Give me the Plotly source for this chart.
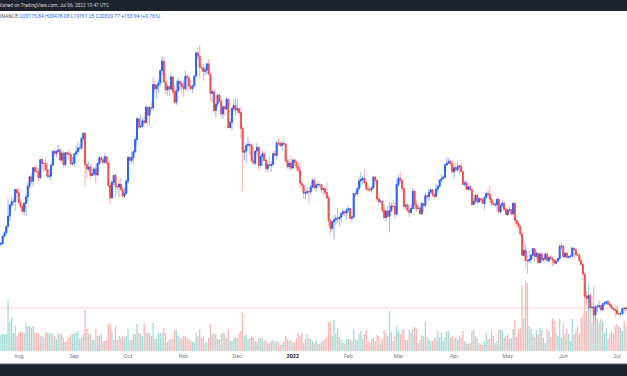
import plotly.graph_objects as go
import pandas as pd

# ---------------- data (BINANCE BTC/USDT daily, prices in thousand USDT) ----------------
first_open_k = 32.14  # close of 2021-07-21
dates = pd.date_range("2021-07-22", "2022-07-06", freq="D")

close_k = [
    32.29, 33.63, 34.26, 35.42, 37.34, 39.41, 40.00, 40.01, 42.24, 41.63,
    39.85, 39.15, 38.21, 39.72, 40.86, 42.84, 44.61, 43.79, 46.29, 45.59, 45.55, 44.43, 47.79, 47.10, 47.05, 45.94,
    44.69, 44.74, 46.76, 49.34, 48.91, 49.32, 49.55, 47.71, 48.99, 46.85, 49.07, 48.90, 48.77, 46.97, 47.10,
    48.85, 49.25, 49.94, 49.92, 51.76, 52.66, 46.86, 46.05, 46.40, 44.85, 45.17, 46.03, 44.94, 47.11, 48.12,
    47.74, 47.30, 48.32, 47.26, 43.01, 40.69, 43.57, 44.90, 42.84, 42.72, 43.21, 42.24, 41.03, 41.56, 43.79,
    48.17, 47.66, 48.23, 49.25, 51.49, 55.34, 53.81, 53.97, 54.97, 54.66, 57.47, 56.01, 57.37, 57.35, 61.67, 60.88,
    61.53, 62.01, 64.28, 66.00, 62.19, 60.69, 61.29, 60.85, 63.08, 60.33, 58.41, 60.58, 62.25, 61.86, 61.30,
    60.91, 63.22, 62.90, 61.40, 60.94, 61.47, 63.27, 67.53, 66.95, 64.88, 64.77, 64.12, 64.38, 65.52, 63.61,
    60.06, 60.34, 56.89, 58.05, 59.71, 58.62, 56.25, 57.54, 57.14, 58.96, 53.73, 54.72, 57.27, 57.78, 56.95,
    57.18, 56.48, 53.60, 49.15, 49.40, 50.44, 50.59, 50.47, 47.55, 47.14, 49.39, 50.05, 46.70, 48.34, 48.86, 47.63,
    46.13, 46.83, 46.68, 46.91, 48.89, 48.59, 50.84, 50.82, 50.40, 50.78, 50.70, 47.54, 46.46, 47.12, 46.22,
    47.72, 47.29, 46.45, 45.83, 43.45, 43.08, 41.57, 41.68, 41.86, 41.82, 42.74, 43.95, 42.59, 43.10, 43.18, 43.11,
    42.25, 42.38, 41.74, 40.68, 36.45, 35.07, 36.28, 36.65, 36.95, 36.85, 37.14, 37.78, 38.14, 37.92, 38.50,
    38.74, 36.95, 37.15, 41.50, 41.44, 42.41, 43.84, 44.12, 44.34, 43.57, 42.41, 42.24, 42.20, 42.59, 44.58,
    43.96, 40.54, 40.03, 40.12, 38.43, 37.08, 38.29, 37.30, 38.33, 39.21, 39.11, 37.71, 43.19,
    44.35, 43.93, 42.46, 39.15, 39.40, 38.42, 37.99, 38.73, 41.94, 39.42, 38.73, 38.81, 37.78, 39.67, 39.29, 41.12,
    40.92, 41.76, 42.20, 41.26, 41.00, 42.36, 42.88, 43.99, 44.31, 44.51, 46.83, 47.13, 47.47, 47.06, 45.54,
    46.28, 45.87, 46.45, 46.62, 45.56, 43.21, 43.50, 42.29, 42.78, 42.21, 39.52, 40.13, 41.15, 39.94, 40.55,
    40.38, 39.68, 40.80, 41.49, 41.36, 40.48, 39.71, 39.44, 39.45, 40.43, 38.11, 39.24, 39.74, 38.60, 37.63,
    38.47, 38.53, 37.73, 39.69, 36.55, 36.01, 35.47, 34.04, 30.08, 31.02, 29.10, 29.05, 29.28, 30.10, 31.31, 29.86,
    30.43, 28.72, 30.31, 29.25, 29.43, 30.32, 29.10, 29.66, 29.54, 29.20, 28.63, 29.03, 29.47, 31.73, 31.80,
    29.81, 30.45, 29.70, 29.87, 29.92, 31.37, 31.13, 30.21, 30.11, 29.08, 28.42, 26.57, 22.49, 22.14, 22.58,
    20.40, 20.47, 19.02, 20.55, 20.56, 20.72, 19.99, 21.11, 21.24, 21.49, 21.04, 20.74, 20.28, 20.12, 19.94,
    19.28, 19.24, 19.30, 20.23, 20.18, 20.33,
]

high_k = [
    32.58, 33.65, 34.49, 35.45, 40.55, 39.54, 40.90, 40.64, 42.32, 42.41,
    42.60, 40.45, 39.78, 39.97, 41.40, 43.39, 44.74, 45.31, 46.45, 46.70, 46.74, 46.22, 47.89, 48.14, 47.39, 48.05,
    47.16, 46.00, 47.05, 49.38, 49.82, 49.51, 50.50, 49.87, 49.28, 49.37, 49.17, 49.31, 49.63, 48.91, 48.25,
    49.00, 50.40, 51.05, 50.56, 51.90, 52.78, 52.92, 47.34, 47.40, 47.03, 45.97, 46.46, 46.88, 47.25, 48.45,
    48.50, 48.16, 48.81, 48.37, 47.35, 43.63, 44.00, 44.98, 45.20, 42.97, 43.94, 44.35, 42.79, 42.62, 44.13,
    48.50, 48.34, 49.30, 49.50, 51.89, 55.75, 55.33, 56.10, 55.50, 56.56, 57.84, 57.68, 57.75, 58.53, 62.93, 62.34,
    61.72, 62.70, 64.49, 67.00, 66.64, 63.73, 61.75, 61.49, 63.71, 63.29, 61.50, 62.50, 62.98, 62.35, 62.40,
    62.44, 64.27, 63.52, 63.13, 62.59, 61.56, 63.29, 67.79, 68.53, 69.00, 65.60, 65.46, 65.00, 65.55, 66.40,
    63.62, 60.81, 60.98, 58.35, 59.86, 60.03, 59.27, 57.88, 57.83, 59.40, 59.17, 55.28, 57.45, 58.87, 59.18,
    59.04, 57.38, 57.60, 53.87, 49.70, 50.89, 51.94, 51.20, 50.80, 50.10, 49.49, 50.80, 50.30, 48.70, 49.50, 49.41,
    47.98, 47.31, 48.30, 47.54, 49.33, 49.58, 51.38, 51.81, 51.16, 51.28, 52.09, 50.70, 48.14, 47.90, 48.55,
    47.94, 47.99, 47.57, 47.51, 47.07, 43.75, 43.15, 42.30, 42.79, 42.25, 43.10, 44.32, 44.46, 43.45, 43.80, 43.48,
    43.20, 42.70, 42.59, 43.50, 41.10, 36.84, 36.50, 37.55, 37.55, 38.92, 37.23, 38.00, 38.72, 38.36, 38.74,
    39.27, 38.86, 37.40, 41.69, 41.94, 42.65, 44.50, 45.49, 44.80, 45.82, 43.92, 43.00, 42.76, 42.88, 44.77,
    44.58, 44.19, 40.97, 40.45, 40.14, 39.49, 38.43, 39.25, 39.84, 39.73, 40.30, 39.89, 44.23,
    44.95, 45.40, 44.10, 42.55, 39.66, 39.69, 39.55, 39.40, 42.59, 42.06, 40.24, 39.49, 39.31, 39.95, 39.90, 41.72,
    41.47, 42.32, 42.40, 42.30, 41.54, 43.36, 43.03, 44.22, 45.09, 44.82, 46.92, 48.19, 48.10, 47.70, 47.60,
    46.72, 47.21, 47.44, 46.89, 47.20, 45.56, 43.92, 43.97, 42.81, 43.43, 42.41, 40.70, 41.56, 41.50, 40.86,
    40.71, 40.60, 41.12, 41.76, 42.20, 42.98, 40.80, 39.99, 39.94, 40.62, 40.80, 39.47, 40.37, 39.92, 38.80,
    38.67, 39.17, 38.65, 39.92, 39.85, 36.66, 36.13, 35.51, 34.24, 32.66, 32.19, 30.03, 30.98, 30.34, 31.46, 31.31,
    30.79, 30.67, 30.55, 30.78, 29.63, 30.49, 30.68, 29.85, 30.22, 29.83, 29.39, 29.22, 29.54, 32.22, 32.40,
    31.98, 30.69, 30.68, 29.94, 30.20, 31.77, 31.55, 31.33, 30.70, 30.39, 29.45, 28.55, 26.90, 23.36, 22.75,
    22.98, 21.37, 20.78, 20.83, 21.08, 21.72, 20.87, 21.21, 21.50, 21.60, 21.87, 21.52, 21.20, 20.43, 20.18,
    20.88, 19.40, 19.65, 20.35, 20.73, 20.48,
]

low_k = [
    31.71, 31.95, 33.40, 33.85, 35.21, 36.38, 38.77, 39.20, 38.31, 41.00,
    39.42, 38.69, 37.64, 37.51, 37.33, 39.85, 42.45, 43.28, 42.84, 44.77, 45.35, 43.77, 44.25, 45.96, 45.53, 45.67,
    44.38, 44.20, 43.95, 46.62, 48.29, 48.12, 49.05, 47.60, 47.12, 46.31, 46.37, 48.37, 47.76, 46.86, 46.70,
    46.51, 48.60, 48.35, 49.40, 49.50, 50.97, 42.84, 44.41, 45.51, 44.14, 44.73, 44.74, 43.37, 44.69, 46.75,
    47.04, 46.75, 47.05, 46.85, 42.50, 39.60, 40.56, 43.09, 40.68, 41.65, 40.75, 42.10, 40.89, 40.75, 41.41,
    43.28, 47.43, 47.12, 46.89, 49.00, 50.38, 53.36, 53.61, 53.70, 54.12, 54.42, 53.88, 54.17, 56.82, 56.85, 60.15,
    58.96, 60.10, 61.32, 63.48, 62.00, 60.00, 59.67, 59.51, 60.65, 59.82, 58.00, 57.82, 60.17, 60.72, 59.95,
    59.41, 60.62, 60.38, 60.68, 60.72, 60.13, 61.33, 63.09, 66.38, 62.82, 64.10, 62.33, 63.36, 63.59, 63.40,
    58.57, 58.37, 56.47, 55.60, 57.35, 58.49, 55.61, 55.30, 55.84, 57.00, 53.50, 53.61, 53.26, 56.70, 55.88,
    56.46, 55.84, 51.68, 42.00, 47.73, 47.10, 50.04, 48.60, 47.32, 46.85, 46.60, 48.64, 45.67, 46.33, 46.55, 47.53,
    45.50, 45.52, 46.41, 45.56, 46.63, 48.42, 47.92, 50.41, 50.17, 49.44, 50.44, 47.31, 46.10, 45.90, 45.68,
    46.21, 46.65, 45.70, 45.50, 42.50, 42.43, 40.61, 40.50, 41.20, 39.65, 41.27, 42.45, 42.30, 41.73, 42.58, 42.61,
    41.54, 41.25, 41.14, 40.55, 35.44, 34.01, 34.60, 32.92, 35.71, 36.24, 35.51, 36.16, 37.40, 37.35, 36.63,
    38.00, 36.59, 36.25, 37.00, 40.93, 41.12, 41.92, 42.67, 43.12, 43.16, 42.00, 41.75, 41.86, 41.57, 42.43,
    43.32, 40.10, 39.45, 39.64, 38.00, 36.80, 36.35, 37.04, 34.32, 38.01, 38.58, 37.00, 37.45,
    42.82, 43.35, 41.84, 38.65, 38.60, 38.10, 37.16, 37.86, 38.65, 38.54, 38.23, 38.66, 37.58, 37.56, 38.12, 38.90,
    40.50, 40.14, 41.53, 40.91, 40.47, 40.89, 41.77, 42.56, 43.60, 44.07, 44.42, 46.66, 46.95, 46.60, 45.20,
    44.20, 45.63, 45.53, 45.12, 45.36, 43.12, 42.73, 42.11, 42.13, 42.00, 39.20, 39.25, 39.55, 39.55, 39.77,
    40.00, 39.55, 38.54, 40.57, 40.82, 39.75, 39.18, 39.30, 38.93, 38.20, 37.70, 37.87, 38.88, 38.18, 37.58,
    37.39, 38.05, 37.51, 37.67, 35.57, 35.26, 34.79, 33.71, 30.03, 29.73, 27.70, 26.70, 28.70, 28.63, 29.48, 29.08,
    29.43, 28.65, 28.71, 28.73, 28.95, 29.23, 28.87, 28.66, 29.31, 28.02, 28.24, 28.57, 28.84, 29.30, 31.20,
    29.30, 29.59, 29.35, 29.45, 29.50, 29.88, 29.22, 29.85, 29.94, 28.85, 28.10, 26.56, 22.30, 20.85, 20.07,
    20.23, 20.25, 17.62, 17.95, 19.64, 20.35, 19.77, 19.89, 20.73, 20.90, 20.96, 20.51, 20.20, 19.85, 18.63,
    18.97, 18.99, 18.78, 19.06, 19.30, 19.76,
]

volume_kbtc = [
    32, 34, 34, 34, 102, 58, 68, 36, 50, 30,
    36, 38, 38, 36, 56, 50, 50, 46, 50, 36, 38, 34, 30, 30, 26, 38, 36, 36, 36, 34, 30, 24, 36, 34, 34, 26,
    18, 22, 28, 34, 34,
    36, 36, 40, 24, 26, 34, 82, 44, 34, 34, 22, 22, 44, 30, 30, 34, 20, 20, 22, 54, 56, 38, 22, 50, 22, 30,
    26, 30, 26, 30,
    44, 22, 22, 34, 34, 54, 36, 34, 30, 56, 36, 36, 36, 30, 56, 24, 26, 36, 36, 36, 46, 36, 18, 22, 24, 26,
    42, 42, 30, 26, 26,
    30, 30, 26, 24, 20, 18, 18, 36, 30, 44, 26, 30, 16, 18, 26, 54, 34, 36, 34, 24, 22, 34, 36, 34, 26, 44,
    20, 20, 26, 28,
    26, 36, 40, 76, 30, 34, 24, 26, 30, 26, 20, 18, 26, 26, 26, 20, 22, 16, 16, 20, 22, 18, 20, 18, 12, 14,
    18, 30, 24, 20, 22,
    16, 18, 26, 36, 30, 36, 16, 24, 34, 26, 24, 20, 16, 22, 14, 14, 18, 20, 24, 28, 58, 58, 30, 62, 34, 46,
    28, 22, 16, 14, 24,
    24, 24, 20, 44, 24, 22, 34, 40, 24, 34, 42, 20, 16, 24, 26, 20, 32, 30, 14, 24, 42, 36, 30, 80, 38, 20,
    30, 50,
    40, 34, 42, 44, 22, 22, 42, 36, 44, 48, 44, 16, 22, 32, 30, 58, 28, 24, 20, 20, 26, 26, 40, 28, 36, 20,
    28, 40, 40, 26, 30,
    24, 28, 22, 30, 26, 40, 20, 16, 14, 16, 40, 42, 30, 26, 16, 14, 12, 20, 36, 24, 26, 40, 30, 16, 20, 42,
    44, 40, 26, 30,
    34, 24, 26, 44, 62, 28, 42, 46, 130, 66, 138, 136, 50, 44, 34, 28, 42, 34, 46, 40, 26, 16, 44, 40, 28, 66,
    60, 36, 30, 64, 26,
    56, 34, 44, 34, 20, 64, 34, 40, 50, 34, 66, 74, 140, 80, 134, 114, 56, 130, 60, 66, 56, 64, 60, 36, 46, 24,
    34, 40, 34, 50,
    54, 50, 46, 40, 60, 50,
]

month_ticks = ["2021-08-01", "2021-09-01", "2021-10-01", "2021-11-01", "2021-12-01", "2022-01-01",
               "2022-02-01", "2022-03-01", "2022-04-01", "2022-05-01", "2022-06-01", "2022-07-01"]
month_labels = ["Aug", "Sep", "Oct", "Nov", "Dec", "<b><span style='color:#131722'>2022</span></b>",
                "Feb", "Mar", "Apr", "May", "Jun", "Jul"]

header_line = "Published on TradingView.com, Jul 06, 2022 19:47 UTC"
symbol_name = "BINANCE"
ohlc_text = "O20175.84 H20478.08 L19761.25 C20329.77 +153.94 (+0.76%)"

n = len(dates)
assert len(close_k) == n and len(high_k) == n and len(low_k) == n and len(volume_kbtc) == n, (
    len(close_k), len(high_k), len(low_k), len(volume_kbtc), n)

open_k = [first_open_k] + close_k[:-1]
is_up = [c >= o for o, c in zip(open_k, close_k)]
body_hi = [max(o, c) for o, c in zip(open_k, close_k)]
body_lo = [min(o, c) for o, c in zip(open_k, close_k)]

UP = "#2962FF"
DOWN = "#EF5350"
UP_WICK = "rgba(41,98,255,0.45)"
DOWN_WICK = "rgba(239,83,80,0.45)"
VOL_UP = "rgba(38,166,154,0.42)"
VOL_DOWN = "rgba(239,83,80,0.42)"

PLOT_H = 351  # px height of plot area (top of figure to volume baseline)

fig = go.Figure()

fig.add_trace(go.Bar(
    x=dates, y=volume_kbtc, yaxis="y",
    marker=dict(color=[VOL_UP if u else VOL_DOWN for u in is_up], line=dict(width=0)),
    width=0.72 * 86400000, hoverinfo="skip",
))

fig.add_trace(go.Candlestick(
    x=dates, open=open_k, high=high_k, low=low_k, close=close_k, yaxis="y2",
    increasing=dict(line=dict(color=UP_WICK, width=1), fillcolor=UP_WICK),
    decreasing=dict(line=dict(color=DOWN_WICK, width=1), fillcolor=DOWN_WICK),
    whiskerwidth=0, hoverinfo="skip",
))

fig.add_trace(go.Candlestick(
    x=dates, open=open_k, high=body_hi, low=body_lo, close=close_k, yaxis="y2",
    increasing=dict(line=dict(color=UP, width=1), fillcolor=UP),
    decreasing=dict(line=dict(color=DOWN, width=1), fillcolor=DOWN),
    whiskerwidth=0, hoverinfo="skip",
))

def paper_y(px):
    return 1 - px / PLOT_H

shapes = [
    # last price line
    dict(type="line", xref="paper", x0=0, x1=1, yref="y2", y0=close_k[-1], y1=close_k[-1],
         line=dict(color="rgba(242,54,69,0.22)", width=1), layer="below"),
    # top dark banner
    dict(type="rect", xref="paper", x0=0, x1=1, yref="paper", y0=paper_y(11), y1=1,
         fillcolor="#1E222D", line=dict(width=0), layer="above"),
    # bottom dark banner
    dict(type="rect", xref="paper", x0=0, x1=1, yref="paper", y0=paper_y(377), y1=paper_y(364),
         fillcolor="#1E222D", line=dict(width=0), layer="above"),
    dict(type="line", xref="paper", x0=0, x1=1, yref="paper", y0=paper_y(364), y1=paper_y(364),
         line=dict(color="#5d606b", width=1), layer="above"),
]

annotations = [
    dict(text=header_line, xref="paper", yref="paper", x=0, y=paper_y(5.6), xanchor="left",
         yanchor="middle", xshift=-10, showarrow=False,
         font=dict(family="Roboto, sans-serif", size=4.8, color="#D1D4DC")),
    dict(text=f"<span style='color:#50535E'>{symbol_name}</span> "
              f"<span style='color:#2962FF'>{ohlc_text}</span>",
         xref="paper", yref="paper", x=0, y=paper_y(16.7), xanchor="left", yanchor="middle",
         xshift=-5, showarrow=False, font=dict(family="Roboto, sans-serif", size=5)),
]

fig.update_layout(
    width=627, height=376,
    margin=dict(l=0, r=0, t=0, b=376 - PLOT_H),
    paper_bgcolor="white", plot_bgcolor="white",
    showlegend=False,
    xaxis=dict(
        type="date", range=["2021-07-21 12:00", "2022-07-06 14:10"],
        tickmode="array", tickvals=month_ticks, ticktext=month_labels,
        showgrid=False, zeroline=False, showline=False, ticks="",
        tickfont=dict(family="Roboto, sans-serif", size=5.5, color="#787B86"),
        rangeslider=dict(visible=False), fixedrange=True,
    ),
    yaxis=dict(range=[0, 2 * PLOT_H], visible=False, fixedrange=True),
    yaxis2=dict(range=[12.375, 77.325], overlaying="y", visible=False, fixedrange=True),
    shapes=shapes,
    annotations=annotations,
)

fig.write_html(
    "out.html",
    config={"displayModeBar": False, "staticPlot": True},
    post_script="document.body.style.margin='0';document.body.style.padding='0';"
                "document.body.style.overflow='hidden';",
)
